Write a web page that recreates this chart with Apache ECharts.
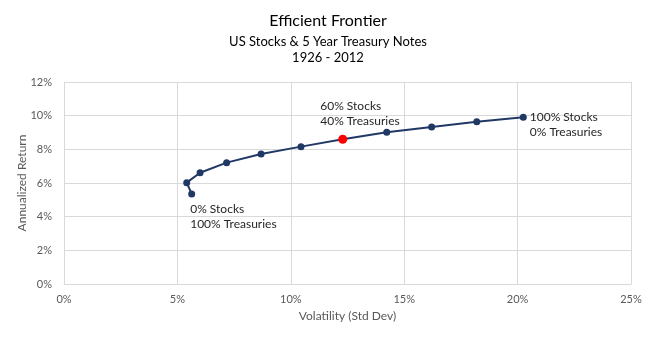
<!DOCTYPE html>
<html>
<head>
<meta charset="utf-8">
<script src="https://cdn.jsdelivr.net/npm/echarts@6/dist/echarts.min.js"></script>
<style>
  html, body { margin: 0; padding: 0; background: #fff; }
  #chart { width: 656px; height: 341px; }
</style>
</head>
<body>
<div id="chart"></div>
<script>
// volatility (%) and annualized return (%) from 0% stocks to 100% stocks
const volatility = [5.63, 5.41, 6.0, 7.17, 8.69, 10.45, 12.29, 14.23, 16.21, 18.2, 20.25];
const returns = [5.35, 6.02, 6.61, 7.21, 7.72, 8.16, 8.6, 9.01, 9.33, 9.64, 9.9];
const pointLabels = ['0% Stocks\n100% Treasuries', '', '', '', '', '', '60% Stocks\n40% Treasuries', '', '', '', '100% Stocks\n0% Treasuries'];
const highlightIndex = 6;

const font = 'Lato, "Open Sans", sans-serif';
const labelPos = { 0: [2, 11], 6: [-18, -36], 10: [10, -4] };

const chart = echarts.init(document.getElementById('chart'));

const data = volatility.map((v, i) => {
  const item = { value: [v, returns[i]] };
  if (i === highlightIndex) {
    item.itemStyle = { color: '#ff0000' };
    item.symbolSize = 9;
  }
  if (pointLabels[i]) {
    item.label = {
      show: true,
      formatter: pointLabels[i],
      position: labelPos[i],
      align: 'left',
      verticalAlign: 'top',
      fontFamily: font,
      fontSize: 12,
      lineHeight: 15,
      color: '#262626'
    };
  }
  return item;
});

chart.setOption({
  animation: false,
  title: {
    text: 'Efficient Frontier',
    subtext: 'US Stocks & 5 Year Treasury Notes\n1926 - 2012',
    left: 'center',
    top: 8,
    itemGap: 5,
    textStyle: { fontFamily: font, fontSize: 16, fontWeight: 'normal', color: '#000' },
    subtextStyle: { fontFamily: font, fontSize: 13, color: '#000', lineHeight: 16 }
  },
  grid: { left: 64, right: 25, top: 82, bottom: 57 },
  xAxis: {
    type: 'value',
    min: 0, max: 25, interval: 5,
    name: 'Volatility (Std Dev)',
    nameLocation: 'middle',
    nameGap: 26,
    nameTextStyle: { fontFamily: font, fontSize: 12, color: '#595959' },
    axisLine: { show: true, lineStyle: { color: '#d9d9d9' } },
    axisTick: { show: false },
    axisLabel: { formatter: '{value}%', fontFamily: font, fontSize: 11, color: '#595959', margin: 10 },
    splitLine: { show: true, lineStyle: { color: '#d9d9d9' } }
  },
  yAxis: {
    type: 'value',
    min: 0, max: 12, interval: 2,
    name: 'Annualized Return',
    nameLocation: 'middle',
    nameGap: 36,
    nameMoveOverlap: false,
    nameTextStyle: { fontFamily: font, fontSize: 12, color: '#595959' },
    axisLine: { show: false },
    axisTick: { show: false },
    axisLabel: { formatter: '{value}%', fontFamily: font, fontSize: 11, color: '#595959', margin: 12 },
    splitLine: { show: true, lineStyle: { color: '#d9d9d9' } }
  },
  series: [{
    type: 'line',
    data: data,
    symbol: 'circle',
    symbolSize: 7,
    lineStyle: { color: '#203864', width: 2 },
    itemStyle: { color: '#203864' }
  }]
});
</script>
</body>
</html>
